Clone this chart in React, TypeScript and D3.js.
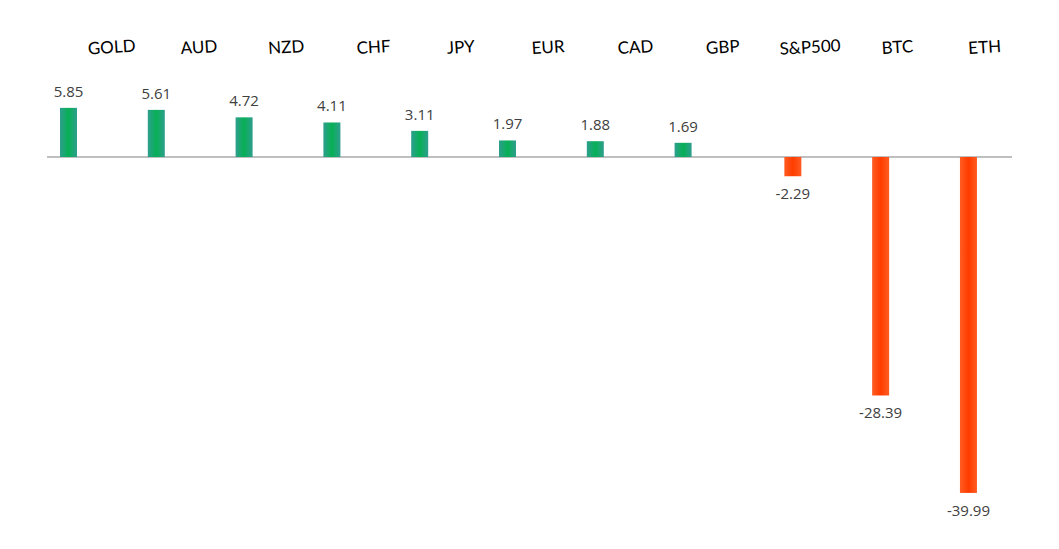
import { useEffect, useRef } from 'react';
import * as d3 from 'd3';

const categories = ['GOLD', 'AUD', 'NZD', 'CHF', 'JPY', 'EUR', 'CAD', 'GBP', 'S&P500', 'BTC', 'ETH'];
const values = [5.85, 5.61, 4.72, 4.11, 3.11, 1.97, 1.88, 1.69, -2.29, -28.39, -39.99];
// first 8 are currencies/gold, the rest risk assets (drawn with a small gap)
const groups = ['fx', 'fx', 'fx', 'fx', 'fx', 'fx', 'fx', 'fx', 'risk', 'risk', 'risk'];

const W = 1059;
const H = 549;

export default function App() {
  const ref = useRef<SVGSVGElement>(null);

  useEffect(() => {
    if (!ref.current) return;
    const svg = d3.select(ref.current);
    svg.selectAll('*').remove();

    const defs = svg.append('defs');
    const grad = (id: string, edge: string, mid: string) => {
      const g = defs.append('linearGradient').attr('id', id).attr('x1', '0%').attr('x2', '100%');
      g.append('stop').attr('offset', '0%').attr('stop-color', edge);
      g.append('stop').attr('offset', '50%').attr('stop-color', mid);
      g.append('stop').attr('offset', '100%').attr('stop-color', edge);
    };
    grad('gPos', '#2e9e8e', '#07b055');
    grad('gNeg', '#ff5c22', '#ff3c00');

    // bar centres: one step per category, risk group pushed right by a quarter step
    const x = d3.scaleLinear().domain([0, 10]).range([68.5, 68.5 + 10 * 87.8]);
    const groupGap = 0.25;
    const xBar = (i: number) => x(i + (groups[i] === 'risk' ? groupGap : 0));

    const y = d3.scaleLinear().domain([0, -40]).range([157, 157 + 336]);
    const barW = 17;

    // category labels are evenly spaced across the top
    const xl = d3.scalePoint<string>().domain(categories).range([112, 985]);

    // zero line
    svg.append('line')
      .attr('x1', 47).attr('x2', 1012)
      .attr('y1', y(0)).attr('y2', y(0))
      .attr('stroke', '#bfbfbf').attr('stroke-width', 2);

    const bars = values.map((v, i) => ({ v, i, cx: xBar(i) }));

    svg.append('g').selectAll('rect')
      .data(bars)
      .join('rect')
      .attr('x', d => d.cx - barW / 2)
      .attr('width', barW)
      .attr('y', d => Math.min(y(d.v), y(0)))
      .attr('height', d => Math.abs(y(d.v) - y(0)))
      .attr('fill', d => (d.v >= 0 ? 'url(#gPos)' : 'url(#gNeg)'));

    svg.append('g').selectAll('text')
      .data(bars)
      .join('text')
      .attr('x', d => d.cx)
      .attr('y', d => (d.v >= 0 ? y(d.v) - 11 : y(d.v) + 23))
      .attr('text-anchor', 'middle')
      .attr('font-family', '"Open Sans", "DejaVu Sans", sans-serif')
      .attr('font-size', 15)
      .attr('fill', '#404040')
      .text(d => d.v.toFixed(2));

    svg.append('g').selectAll('text')
      .data(categories)
      .join('text')
      .attr('transform', d => `translate(${xl(d)},53) rotate(-3.5)`)
      .attr('text-anchor', 'middle')
      .attr('font-family', 'Lato, "Open Sans", sans-serif')
      .attr('font-size', 17)
      .attr('fill', '#000')
      .text(d => d);
  }, []);

  return (
    <svg
      ref={ref}
      width={W}
      height={H}
      style={{ position: 'absolute', left: 0, top: 0, background: '#fff' }}
    />
  );
}
